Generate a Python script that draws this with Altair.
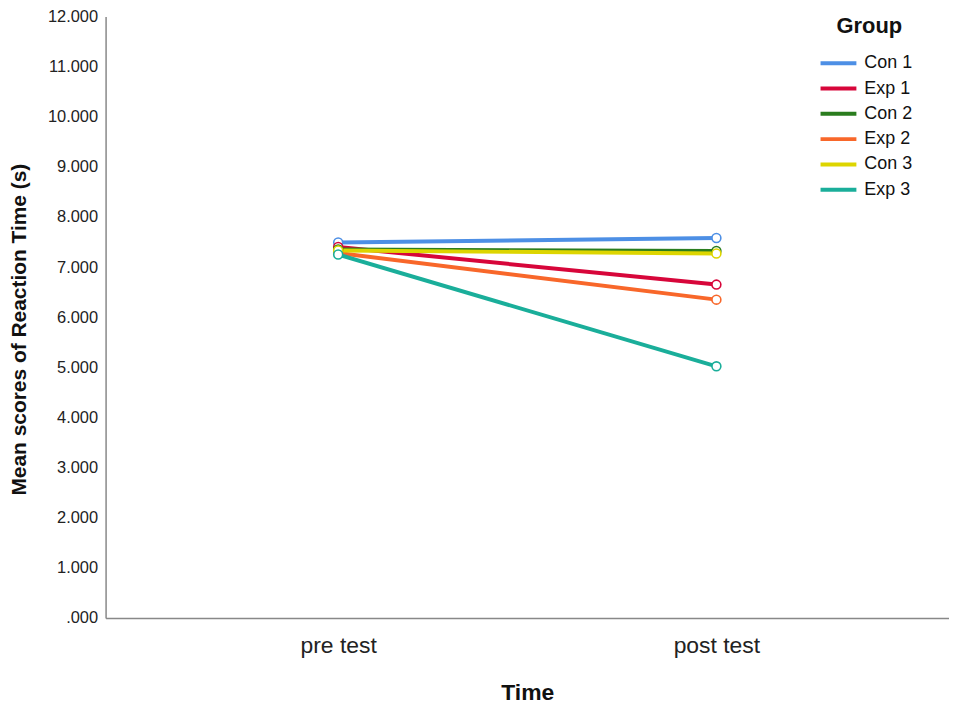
import altair as alt
import pandas as pd

groups = ["Con 1", "Exp 1", "Con 2", "Exp 2", "Con 3", "Exp 3"]
times = ["pre test", "post test"]
pre_values = [7.49, 7.40, 7.35, 7.28, 7.33, 7.25]
post_values = [7.58, 6.65, 7.32, 6.35, 7.27, 5.02]
colors = ["#4d8fe5", "#d7063a", "#2a7d1e", "#f8672a", "#ddd500", "#1aae9a"]
y_ticks = list(range(0, 13))

rows = []
for i, g in enumerate(groups):
    rows.append({"Group": g, "Time": times[0], "Value": pre_values[i], "ord": i})
    rows.append({"Group": g, "Time": times[1], "Value": post_values[i], "ord": i})
df = pd.DataFrame(rows)

FONT = "Liberation Sans"

x = alt.X("Time:N", sort=times,
          scale=alt.Scale(type="point", padding=0.615),
          axis=alt.Axis(title="Time", labelAngle=0, labelFontSize=23, labelPadding=17,
                        titleFontSize=23, titleFontWeight="bold", titlePadding=24,
                        ticks=False, domainColor="#888888", domainWidth=1.5,
                        labelColor="#222222", titleColor="#111111"))
y = alt.Y("Value:Q",
          scale=alt.Scale(domain=[0, 12], nice=False),
          axis=alt.Axis(title="Mean scores of Reaction Time (s)", values=y_ticks,
                        labelExpr="datum.value == 0 ? '.000' : format(datum.value, '.3f')",
                        labelFontSize=16.5, labelPadding=8, ticks=False, grid=False,
                        domainColor="#888888", domainWidth=1.5,
                        titleFontSize=21, titleFontWeight="bold",
                        titleAngle=270, titleAlign="center", titleBaseline="middle",
                        titleX=-86, titleY=314,
                        labelColor="#222222", titleColor="#111111"))
color = alt.Color("Group:N", sort=groups,
                  scale=alt.Scale(domain=groups, range=colors),
                  legend=alt.Legend(title="Group", orient="none", legendX=724, legendY=0,
                                    titleFontSize=22, titleFontWeight="bold",
                                    titleAnchor="middle", titlePadding=13,
                                    labelFontSize=18, labelOffset=14,
                                    symbolType="M-1.8,0H1.8", symbolStrokeWidth=4,
                                    symbolSize=400, rowPadding=4.4,
                                    labelColor="#111111", titleColor="#111111"))

lines = alt.Chart(df).mark_line(strokeWidth=4).encode(
    x=x, y=y, color=color, detail="Group:N", order="ord:Q")
points = alt.Chart(df).mark_point(size=80, strokeWidth=1.6, fill="white", filled=False, opacity=1).encode(
    x=x, y=y, color=alt.Color("Group:N", scale=alt.Scale(domain=groups, range=colors), legend=None))

chart = alt.layer(lines, points).properties(
    width=847, height=604,
    autosize=alt.AutoSizeParams(type="none"),
    padding={"left": 98, "top": 7, "right": 0, "bottom": 90},
).configure(font=FONT).configure_view(stroke=None)

chart.save("out.html", embed_options={"renderer": "svg", "actions": False})
